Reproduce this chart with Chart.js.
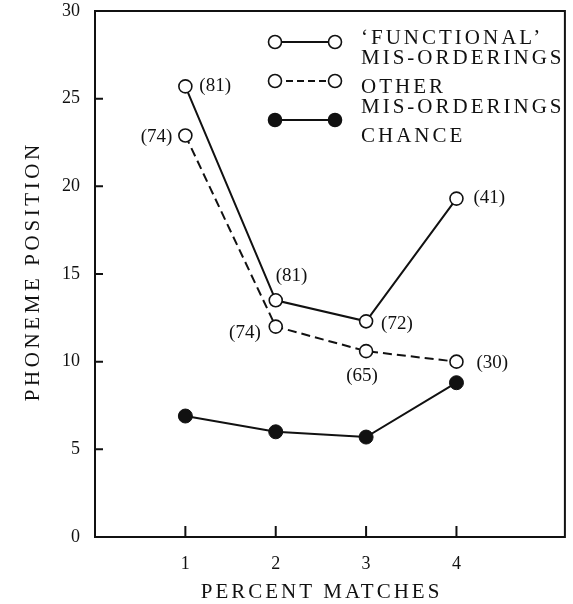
<!DOCTYPE html>
<html>
<head>
<meta charset="utf-8">
<script src="https://cdn.jsdelivr.net/npm/chart.js@4"></script>
<style>
html, body { margin: 0; padding: 0; background: #fff; }
</style>
</head>
<body>
<canvas id="chart" width="573" height="604"></canvas>
<script>
const matches = [1, 2, 3, 4];
const functional = [25.7, 13.5, 12.3, 19.3];
const other = [22.9, 12.0, 10.6, 10.0];
const chance = [6.9, 6.0, 5.7, 8.8];
const functionalN = ['(81)', '(81)', '(72)', '(41)'];
const otherN = ['(74)', '(74)', '(65)', '(30)'];
const yTicks = [0, 5, 10, 15, 20, 25, 30];
const legendLines = [['‘FUNCTIONAL’', 'MIS-ORDERINGS'], ['OTHER', 'MIS-ORDERINGS'], ['CHANCE']];
const xTitle = 'PERCENT MATCHES';
const yTitle = 'PHONEME POSITION';

const ink = '#111';
const serif = '"Liberation Serif", "DejaVu Serif", serif';

function points(values) {
    return matches.map((m, i) => ({ x: m, y: values[i] }));
}

// where each count label sits next to its point: [dx, dy, align]
const functionalPos = [[14, 0, 'left'], [0, -24, 'left'], [15, 3, 'left'], [17, -1, 'left']];
const otherPos = [[-13, 2, 'right'], [-15, 6, 'right'], [-4, 25, 'center'], [20, 1, 'left']];

function spacedText(ctx, text, x, y, spacing) {
    ctx.letterSpacing = spacing + 'px';
    const w = ctx.measureText(text).width - spacing;
    ctx.textAlign = 'left';
    ctx.fillText(text, x - w / 2, y);
    ctx.letterSpacing = '0px';
}

function noPad(scale) {
    scale.paddingTop = 0;
    scale.paddingBottom = 0;
    scale.paddingLeft = 0;
    scale.paddingRight = 0;
}

const decor = {
    id: 'decor',
    afterDraw(chart) {
        const { ctx, chartArea: a, scales: { x, y } } = chart;
        ctx.save();
        ctx.strokeStyle = ink;
        ctx.fillStyle = ink;
        ctx.lineWidth = 2;
        ctx.strokeRect(a.left, a.top, a.right - a.left, a.bottom - a.top);

        // inward tick marks
        ctx.beginPath();
        yTicks.forEach(v => {
            const py = y.getPixelForValue(v);
            ctx.moveTo(a.left, py);
            ctx.lineTo(a.left + 8, py);
        });
        matches.forEach(v => {
            const px = x.getPixelForValue(v);
            ctx.moveTo(px, a.bottom);
            ctx.lineTo(px, a.bottom - 11);
        });
        ctx.stroke();

        // counts beside points
        ctx.font = '19px ' + serif;
        ctx.textBaseline = 'middle';
        [[0, functionalN, functionalPos], [1, otherN, otherPos]].forEach(([di, labels, pos]) => {
            const meta = chart.getDatasetMeta(di);
            meta.data.forEach((pt, i) => {
                ctx.textAlign = pos[i][2];
                ctx.fillText(labels[i], pt.x + pos[i][0], pt.y + pos[i][1]);
            });
        });

        // legend
        const rows = [42, 81, 120];
        const textY = [[38, 58], [87, 107], [136]];
        const styles = [
            { dash: [], fill: '#fff' },
            { dash: [7, 4], fill: '#fff' },
            { dash: [], fill: ink }
        ];
        rows.forEach((ry, i) => {
            ctx.lineWidth = 2;
            ctx.setLineDash(styles[i].dash);
            ctx.beginPath();
            ctx.moveTo(275, ry);
            ctx.lineTo(335, ry);
            ctx.stroke();
            ctx.setLineDash([]);
            [275, 335].forEach(cx => {
                ctx.beginPath();
                ctx.arc(cx, ry, 6.5, 0, Math.PI * 2);
                ctx.fillStyle = styles[i].fill;
                ctx.fill();
                ctx.lineWidth = 1.6;
                ctx.stroke();
            });
            ctx.fillStyle = ink;
            ctx.font = '21px ' + serif;
            ctx.textAlign = 'left';
            ctx.letterSpacing = '3px';
            legendLines[i].forEach((line, j) => {
                ctx.fillText(line, 361, textY[i][j]);
            });
            ctx.letterSpacing = '0px';
        });

        // axis titles
        ctx.font = '21px ' + serif;
        ctx.textBaseline = 'middle';
        spacedText(ctx, xTitle, 320, 592, 3);
        ctx.save();
        ctx.translate(33, 273);
        ctx.rotate(-Math.PI / 2);
        spacedText(ctx, yTitle, 0, 0, 3.6);
        ctx.restore();

        ctx.restore();
    }
};

new Chart(document.getElementById('chart'), {
    type: 'line',
    data: {
        datasets: [
            {
                label: 'FUNCTIONAL MIS-ORDERINGS',
                data: points(functional),
                borderColor: ink,
                borderWidth: 2,
                pointRadius: 6.5,
                pointBorderWidth: 1.6,
                pointBackgroundColor: '#fff',
                pointBorderColor: ink
            },
            {
                label: 'OTHER MIS-ORDERINGS',
                data: points(other),
                borderColor: ink,
                borderWidth: 2,
                borderDash: [9, 5],
                pointRadius: 6.5,
                pointBorderWidth: 1.6,
                pointBackgroundColor: '#fff',
                pointBorderColor: ink
            },
            {
                label: 'CHANCE',
                data: points(chance),
                borderColor: ink,
                borderWidth: 2,
                pointRadius: 7,
                pointBorderWidth: 1,
                pointBackgroundColor: ink,
                pointBorderColor: ink
            }
        ]
    },
    options: {
        responsive: false,
        animation: false,
        layout: { padding: { top: 11, right: 4, left: 0, bottom: 0 } },
        plugins: {
            legend: { display: false },
            tooltip: { enabled: false }
        },
        scales: {
            x: {
                type: 'linear',
                min: 0,
                max: 5.2,
                grid: { display: false },
                border: { display: false },
                afterBuildTicks: scale => { scale.ticks = matches.map(v => ({ value: v })); },
                afterFit: scale => { scale.height = 67; noPad(scale); },
                ticks: { color: ink, font: { family: serif, size: 18 }, padding: 8 }
            },
            y: {
                min: 0,
                max: 30,
                grid: { display: false },
                border: { display: false },
                afterBuildTicks: scale => { scale.ticks = yTicks.map(v => ({ value: v })); },
                afterFit: scale => { scale.width = 95; noPad(scale); },
                ticks: { color: ink, font: { family: serif, size: 18 }, padding: 7 }
            }
        }
    },
    plugins: [decor]
});
</script>
</body>
</html>
